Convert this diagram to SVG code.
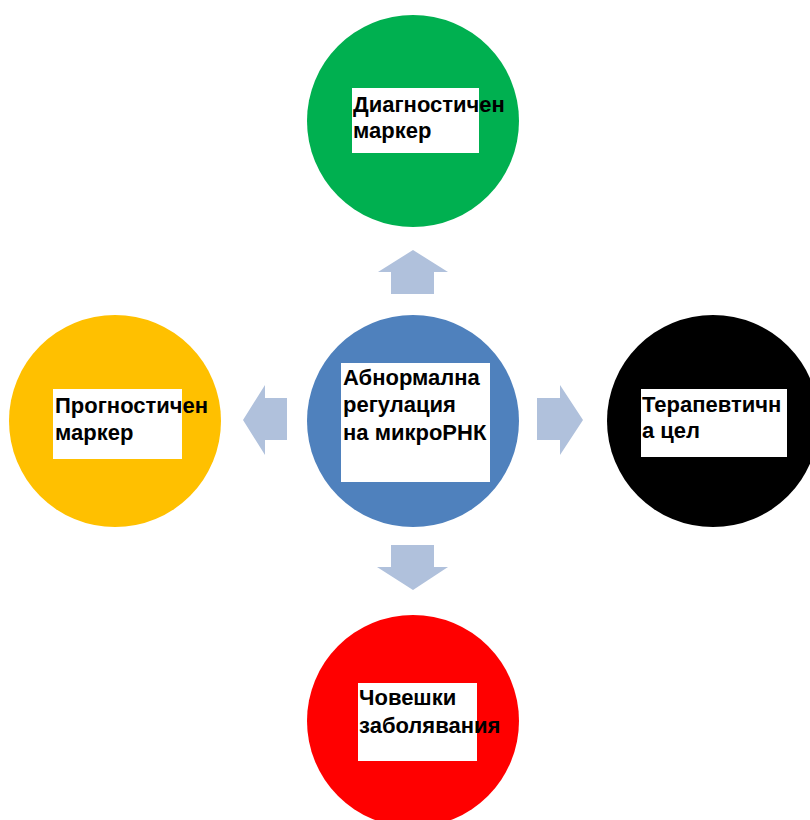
<svg xmlns="http://www.w3.org/2000/svg" width="810" height="820" viewBox="0 0 810 820">
  <style>
    .box { fill: #ffffff; }
    .lbl { font-family: "Liberation Sans", Arial, sans-serif; font-size: 22px; font-weight: bold; fill: #000000; }
    .arrow { fill: #B0C1DC; }
  </style>
  <rect width="810" height="820" fill="#ffffff"/>

  <!-- block arrows from the centre circle -->
  <g id="connectors">
    <polygon class="arrow" points="413,250 448,272 434,272 434,294 391,294 391,272 378,272"/>
    <polygon class="arrow" points="413,590 448,567 434,567 434,545 391,545 391,567 377,567"/>
    <polygon class="arrow" points="243,420 265,385 265,398 287,398 287,440 265,440 265,455"/>
    <polygon class="arrow" points="583,420 560,385 560,398 537,398 537,440 560,440 560,455"/>
  </g>

  <g id="center">
    <circle cx="413" cy="421" r="106" fill="#4F81BD"/>
    <rect class="box" x="341" y="363" width="149" height="119"/>
    <text class="lbl" x="343" y="385">Абнормална</text>
    <text class="lbl" x="343" y="412">регулация</text>
    <text class="lbl" x="343" y="440">на микроРНК</text>
  </g>

  <g id="diagnostic">
    <circle cx="413" cy="121" r="106" fill="#00B050"/>
    <rect class="box" x="352" y="88" width="127" height="65"/>
    <text class="lbl" x="353" y="112">Диагностичен</text>
    <text class="lbl" x="353" y="138">маркер</text>
  </g>

  <g id="prognostic">
    <circle cx="115" cy="421" r="106" fill="#FFC000"/>
    <rect class="box" x="53" y="389" width="129" height="70"/>
    <text class="lbl" x="55" y="413">Прогностичен</text>
    <text class="lbl" x="55" y="440">маркер</text>
  </g>

  <g id="therapeutic">
    <circle cx="713" cy="421" r="106" fill="#000000"/>
    <rect class="box" x="641" y="389" width="146" height="68"/>
    <text class="lbl" x="642" y="412">Терапевтичн</text>
    <text class="lbl" x="642" y="438">а цел</text>
  </g>

  <g id="disease">
    <circle cx="413" cy="721" r="106" fill="#FF0000"/>
    <rect class="box" x="358" y="683" width="119" height="78"/>
    <text class="lbl" x="359" y="705">Човешки</text>
    <text class="lbl" x="359" y="733">заболявания</text>
  </g>
</svg>
